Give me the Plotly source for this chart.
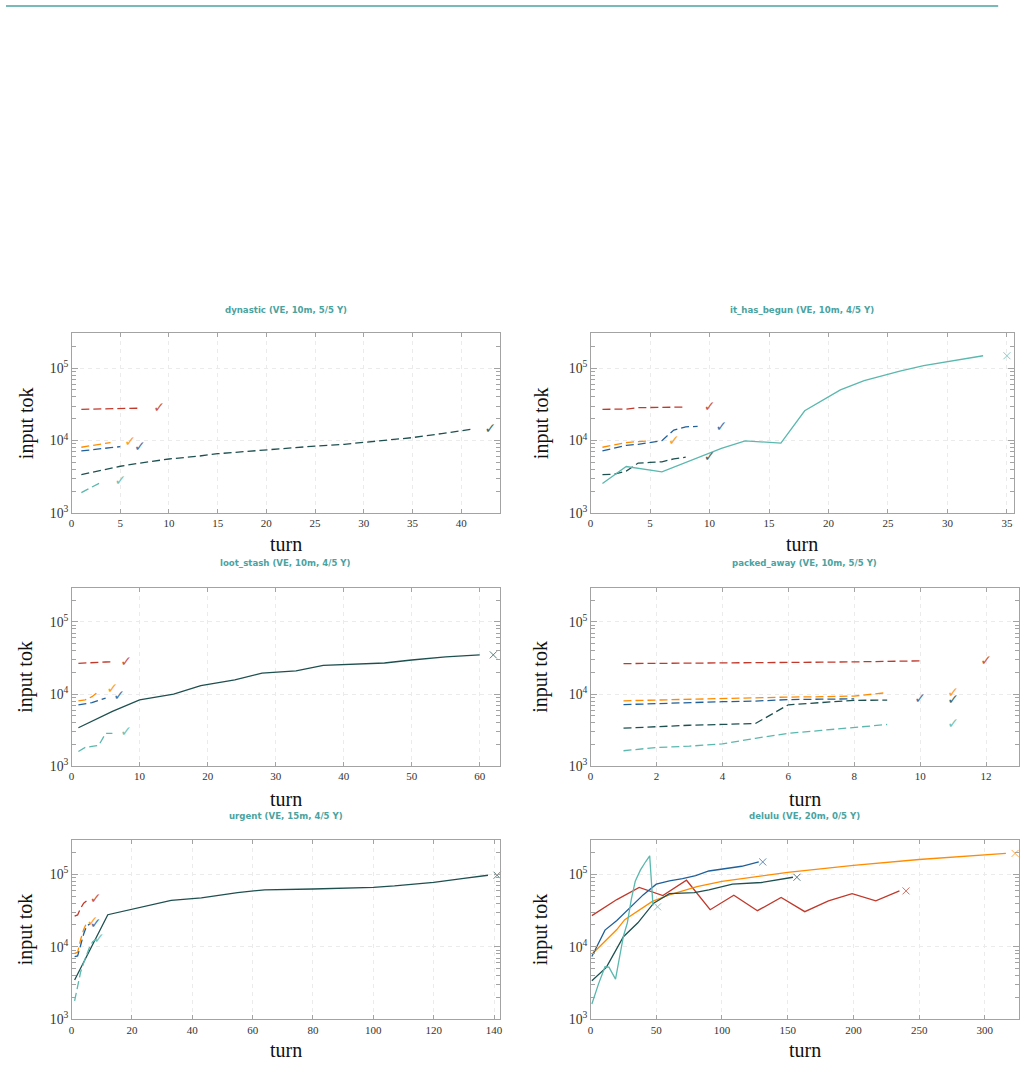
import math
import plotly.graph_objects as go

W, H = 1028, 1071

# series order: red, orange, blue, dark teal, light teal
SERIES_COLORS = ["#c0392b", "#ff8c00", "#20609a", "#1e5050", "#5ab8ae"]
TEAL = "#4aa39f"

# ---------------- dynastic ----------------
dynastic_title = "dynastic (VE, 10m, 5/5 Y)"
dynastic_success = [True, True, True, True, True]
dynastic_red_turn = [1, 2, 3, 4, 5, 6, 7]
dynastic_red_tok = [27000, 27100, 27200, 27400, 27500, 27700, 28000]
dynastic_orange_turn = [1, 2, 3, 4]
dynastic_orange_tok = [8100, 8500, 9000, 9400]
dynastic_blue_turn = [1, 2, 3, 4, 5]
dynastic_blue_tok = [7200, 7500, 7800, 8000, 8250]
dynastic_dark_turn = [1, 3, 5, 7, 10, 13, 15, 18, 20, 23, 25, 28, 30, 33, 35, 38, 41]
dynastic_dark_tok = [3400, 3900, 4430, 4900, 5580, 6100, 6600, 7100, 7500, 8000, 8400,
                     8900, 9400, 10300, 11000, 12500, 14300]
dynastic_light_turn = [1, 2, 3]
dynastic_light_tok = [1920, 2250, 2650]
dynastic_end_turn = [9, 6, 7, 43, 5]
dynastic_end_tok = [28000, 9300, 8100, 14300, 2700]

# ---------------- it_has_begun ----------------
begun_title = "it_has_begun (VE, 10m, 4/5 Y)"
begun_success = [True, True, True, True, False]
begun_red_turn = [1, 2, 3, 4, 5, 6, 7, 8]
begun_red_tok = [27000, 27000, 27200, 28500, 28700, 28800, 29000, 29000]
begun_orange_turn = [1, 2, 3, 4, 5]
begun_orange_tok = [8100, 8800, 9400, 9700, 9900]
begun_blue_turn = [1, 2, 3, 4, 5, 6, 7, 8, 9]
begun_blue_tok = [7200, 7900, 8600, 8900, 9500, 10000, 14000, 15500, 15700]
begun_dark_turn = [1, 2, 3, 4, 5, 6, 7, 8]
begun_dark_tok = [3400, 3450, 3800, 4900, 5000, 5100, 5600, 5900]
begun_light_turn = [1, 3, 6, 11, 13, 16, 18, 21, 23, 26, 28, 31, 33]
begun_light_tok = [2570, 4390, 3710, 7800, 9900, 9250, 25800, 50000, 67000, 91000,
                   108000, 130000, 148000]
begun_end_turn = [10, 7, 11, 10, 35]
begun_end_tok = [28500, 9600, 15300, 5800, 148000]

# ---------------- loot_stash ----------------
loot_title = "loot_stash (VE, 10m, 4/5 Y)"
loot_success = [True, True, True, False, True]
loot_red_turn = [1, 2, 3, 4, 5, 6]
loot_red_tok = [26700, 26800, 27200, 27600, 27900, 28000]
loot_orange_turn = [1, 2, 3, 4]
loot_orange_tok = [8060, 8300, 9220, 11000]
loot_blue_turn = [1, 2, 3, 4, 5]
loot_blue_tok = [7100, 7400, 7600, 8200, 8800]
loot_dark_turn = [1, 6, 10, 15, 19, 24, 28, 33, 37, 46, 50, 55, 60]
loot_dark_tok = [3420, 5760, 8300, 10000, 13100, 15700, 19500, 21000, 25000, 27000,
                 29700, 32900, 35000]
loot_light_turn = [1, 2, 3, 4, 5, 6]
loot_light_tok = [1600, 1820, 1880, 1950, 2860, 2860]
loot_end_turn = [8, 6, 7, 62, 8]
loot_end_tok = [27700, 11700, 9200, 35000, 2900]

# ---------------- packed_away ----------------
packed_title = "packed_away (VE, 10m, 5/5 Y)"
packed_success = [True, True, True, True, True]
packed_red_turn = [1, 2, 3, 4, 5, 6, 7, 8, 9, 10]
packed_red_tok = [26500, 26600, 26800, 27000, 27200, 27400, 27700, 28000, 28400, 28900]
packed_orange_turn = [1, 2, 3, 4, 5, 6, 7, 8, 9]
packed_orange_tok = [8080, 8300, 8500, 8700, 8900, 9100, 9200, 9400, 10500]
packed_blue_turn = [1, 2, 3, 4, 5, 6, 7, 8]
packed_blue_tok = [7150, 7400, 7600, 7850, 8000, 8400, 8500, 8600]
packed_dark_turn = [1, 2, 3, 4, 5, 6, 7, 8, 9]
packed_dark_tok = [3370, 3550, 3700, 3800, 3910, 7110, 7600, 8200, 8250]
packed_light_turn = [1, 2, 3, 4, 5, 6, 7, 8, 9]
packed_light_tok = [1640, 1820, 1900, 2040, 2440, 2855, 3140, 3480, 3790]
packed_end_turn = [12, 11, 10, 11, 11]
packed_end_tok = [28500, 10200, 8500, 8100, 3800]

# ---------------- urgent ----------------
urgent_title = "urgent (VE, 15m, 4/5 Y)"
urgent_success = [True, True, True, False, True]
urgent_red_turn = [1, 2, 3, 4, 5]
urgent_red_tok = [26500, 27500, 34000, 40000, 43000]
urgent_orange_turn = [1, 2, 3, 4, 5]
urgent_orange_tok = [8100, 8400, 12600, 17300, 21500]
urgent_blue_turn = [1, 2, 3, 4, 5, 6]
urgent_blue_tok = [7300, 7500, 10500, 15000, 19500, 20500]
urgent_dark_turn = [1, 12, 33, 43, 55, 64, 80, 100, 107, 120, 130, 138]
urgent_dark_tok = [3480, 27700, 43700, 47400, 56000, 61000, 62700, 66000, 69000,
                   77500, 88000, 97000]
urgent_light_turn = [1, 2, 3, 4, 5, 6, 7, 8]
urgent_light_tok = [1800, 3000, 4500, 6000, 8000, 10000, 11800, 12600]
urgent_end_turn = [8, 7, 8, 141, 9]
urgent_end_tok = [45000, 21500, 20500, 97000, 12600]

# ---------------- delulu ----------------
delulu_title = "delulu (VE, 20m, 0/5 Y)"
delulu_success = [False, False, False, False, False]
delulu_red_turn = [1, 20, 37, 55, 73, 91, 109, 127, 145, 163, 181, 199, 217, 235]
delulu_red_tok = [26900, 44800, 65800, 51000, 82800, 32500, 51500, 31500, 48000,
                  30500, 43000, 54000, 43000, 59000]
delulu_orange_turn = [1, 10, 20, 26, 30, 47, 60, 81, 100, 150, 200, 250, 316]
delulu_orange_tok = [7900, 11400, 17300, 23700, 26500, 42300, 52000, 67600, 80000,
                     106000, 133000, 160000, 194000]
delulu_blue_turn = [1, 11, 20, 30, 40, 50, 60, 70, 80, 90, 100, 115, 128]
delulu_blue_tok = [7350, 17000, 23000, 34300, 52000, 73000, 81000, 87000, 96000,
                   111000, 119000, 129000, 148000]
delulu_dark_turn = [1, 12, 25, 36, 48, 60, 79, 90, 108, 130, 154]
delulu_dark_tok = [3400, 5200, 13800, 21400, 40000, 54000, 56000, 61000, 73000,
                   77000, 91000]
delulu_light_turn = [1, 6, 11, 14, 19, 25, 28, 31, 34, 38, 42, 45, 47.5]
delulu_light_tok = [1630, 3060, 5300, 5250, 3590, 14000, 21400, 45000, 80000, 115000,
                    150000, 180000, 37000]
delulu_end_turn = [240, 323, 131, 157, 51]
delulu_end_tok = [59000, 194000, 148000, 91000, 35600]

# ---------------- axes ----------------
x_ranges = [[0, 44], [0, 35.6], [0, 63], [0, 13], [0, 142], [0, 326]]
x_dticks = [5, 5, 10, 2, 20, 50]
y_range = [1000, 300000]

panels = [
    (dynastic_title, dynastic_success,
     [(dynastic_red_turn, dynastic_red_tok), (dynastic_orange_turn, dynastic_orange_tok),
      (dynastic_blue_turn, dynastic_blue_tok), (dynastic_dark_turn, dynastic_dark_tok),
      (dynastic_light_turn, dynastic_light_tok)],
     dynastic_end_turn, dynastic_end_tok),
    (begun_title, begun_success,
     [(begun_red_turn, begun_red_tok), (begun_orange_turn, begun_orange_tok),
      (begun_blue_turn, begun_blue_tok), (begun_dark_turn, begun_dark_tok),
      (begun_light_turn, begun_light_tok)],
     begun_end_turn, begun_end_tok),
    (loot_title, loot_success,
     [(loot_red_turn, loot_red_tok), (loot_orange_turn, loot_orange_tok),
      (loot_blue_turn, loot_blue_tok), (loot_dark_turn, loot_dark_tok),
      (loot_light_turn, loot_light_tok)],
     loot_end_turn, loot_end_tok),
    (packed_title, packed_success,
     [(packed_red_turn, packed_red_tok), (packed_orange_turn, packed_orange_tok),
      (packed_blue_turn, packed_blue_tok), (packed_dark_turn, packed_dark_tok),
      (packed_light_turn, packed_light_tok)],
     packed_end_turn, packed_end_tok),
    (urgent_title, urgent_success,
     [(urgent_red_turn, urgent_red_tok), (urgent_orange_turn, urgent_orange_tok),
      (urgent_blue_turn, urgent_blue_tok), (urgent_dark_turn, urgent_dark_tok),
      (urgent_light_turn, urgent_light_tok)],
     urgent_end_turn, urgent_end_tok),
    (delulu_title, delulu_success,
     [(delulu_red_turn, delulu_red_tok), (delulu_orange_turn, delulu_orange_tok),
      (delulu_blue_turn, delulu_blue_tok), (delulu_dark_turn, delulu_dark_tok),
      (delulu_light_turn, delulu_light_tok)],
     delulu_end_turn, delulu_end_tok),
]

# pixel boxes of the plot areas (left, right, top, bottom)
boxes = [
    (69, 500, 336, 517), (591, 1017, 336, 517),
    (69, 500, 592, 772), (591, 1022, 592, 772),
    (69, 500, 846, 1027), (591, 1022, 846, 1027),
]
title_y = [312, 312, 567, 567, 822, 822]
xlabel_y = [548, 548, 805, 805, 1058, 1058]
ylabel_x = [23, 541, 23, 541, 23, 541]

FRAME = "#a3a3a3"
GRID = "#ebebeb"
SERIF = "Liberation Serif, DejaVu Serif, serif"

fig = go.Figure()
annotations = []
layout = {}

for i, (title, success, series, end_t, end_v) in enumerate(panels):
    k = "" if i == 0 else str(i + 1)
    xa, ya = "x" + k, "y" + k
    l, r, t, b = boxes[i]
    for j, (tx, ty) in enumerate(series):
        col = SERIES_COLORS[j]
        fig.add_trace(go.Scatter(
            x=tx, y=ty, mode="lines", xaxis=xa, yaxis=ya, showlegend=False,
            line=dict(color=col, width=1.3, dash="8px,4px" if success[j] else "solid"),
            hoverinfo="skip"))
    for j in range(len(series)):
        col = SERIES_COLORS[j]
        if success[j]:
            fig.add_trace(go.Scatter(
                x=[end_t[j]], y=[end_v[j]], mode="text", text=["✓"], xaxis=xa, yaxis=ya,
                textfont=dict(color=col, size=14, family="DejaVu Sans"),
                textposition="middle center", showlegend=False, cliponaxis=False,
                opacity=0.85, hoverinfo="skip"))
        else:
            fig.add_trace(go.Scatter(
                x=[end_t[j]], y=[end_v[j]], mode="markers", xaxis=xa, yaxis=ya,
                marker=dict(symbol="x-thin", size=7, line=dict(color=col, width=0.9)),
                showlegend=False, cliponaxis=False, opacity=0.8, hoverinfo="skip"))

    layout["xaxis" + k] = dict(
        domain=[l / W, r / W], anchor=ya, range=x_ranges[i], dtick=x_dticks[i], tick0=0,
        showline=True, linecolor=FRAME, linewidth=1, mirror="allticks",
        ticks="inside", ticklen=4, tickcolor=FRAME, tickwidth=1,
        showgrid=True, gridcolor=GRID, griddash="4px,4px", gridwidth=1, zeroline=False,
        tickfont=dict(family=SERIF, size=11, color="#333"))
    layout["yaxis" + k] = dict(
        domain=[1 - b / H, 1 - t / H], anchor=xa, type="log",
        range=[math.log10(y_range[0]), math.log10(y_range[1])], dtick=1,
        exponentformat="power", showexponent="all",
        showline=True, linecolor=FRAME, linewidth=1, mirror="allticks",
        ticks="inside", ticklen=6, tickcolor=FRAME, tickwidth=1,
        minor=dict(ticks="inside", ticklen=4, dtick="D1", tickcolor=FRAME,
                   tickwidth=1, showgrid=False),
        showgrid=True, gridcolor=GRID, griddash="4px,4px", gridwidth=1, zeroline=False,
        tickfont=dict(family=SERIF, size=11, color="#333"))

    cx = (l + r) / 2 / W
    annotations.append(dict(text="<b>" + title + "</b>", x=cx, y=1 - title_y[i] / H,
                            xref="paper", yref="paper", showarrow=False,
                            xanchor="center", yanchor="middle",
                            font=dict(family="DejaVu Sans", size=8.6, color=TEAL)))
    annotations.append(dict(text="turn", x=cx, y=1 - xlabel_y[i] / H,
                            xref="paper", yref="paper", showarrow=False,
                            xanchor="center", yanchor="middle",
                            font=dict(family=SERIF, size=20, color="#111")))
    annotations.append(dict(text="input tok", x=ylabel_x[i] / W, y=1 - (t + b) / 2 / H,
                            xref="paper", yref="paper", showarrow=False, textangle=-90,
                            xanchor="center", yanchor="middle",
                            font=dict(family=SERIF, size=20, color="#111")))

fig.update_layout(
    width=W, height=H, autosize=False,
    margin=dict(l=0, r=0, t=0, b=0),
    paper_bgcolor="white", plot_bgcolor="white",
    annotations=annotations,
    shapes=[dict(type="line", xref="paper", yref="paper",
                 x0=3 / W, x1=1001 / W, y0=1 - 6 / H, y1=1 - 6 / H,
                 line=dict(color=TEAL, width=1.5))],
    **layout,
)

fig.write_html("out.html")
